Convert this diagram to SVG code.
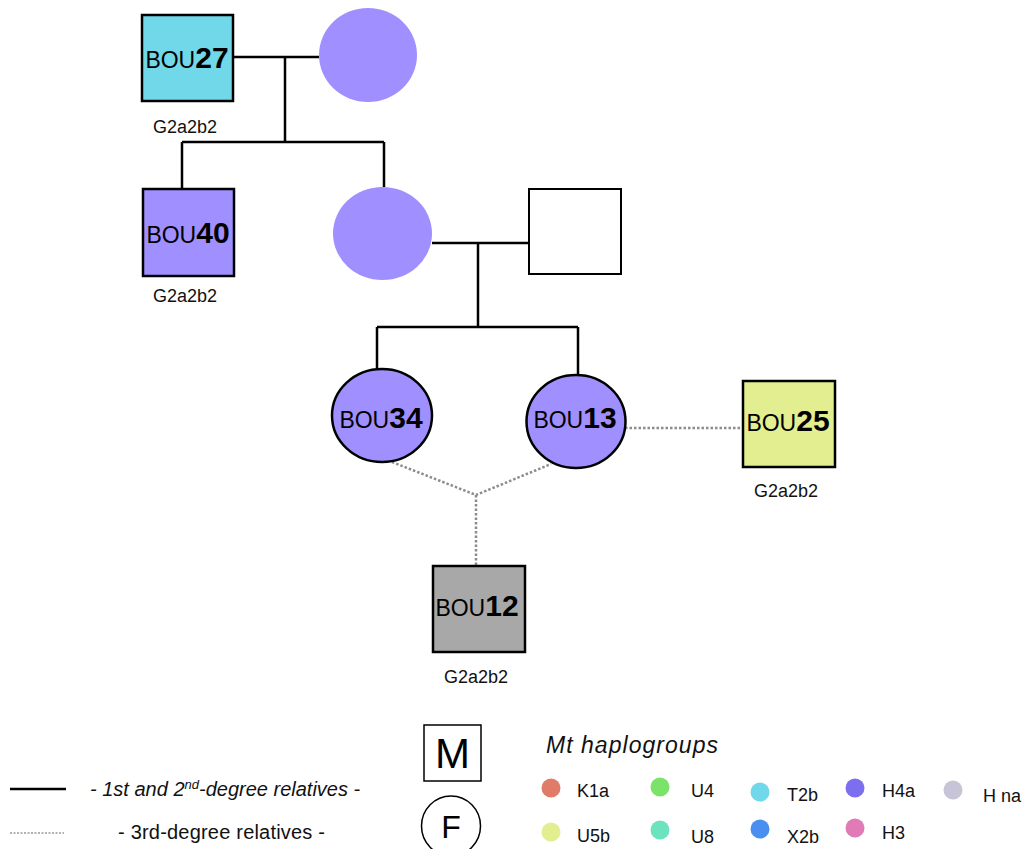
<svg xmlns="http://www.w3.org/2000/svg" width="1027" height="849" viewBox="0 0 1027 849">
<style>
.solid{stroke:#000;stroke-width:2.5;fill:none}
.dot{stroke:#8c8c8c;stroke-width:2.5;stroke-dasharray:2.5 2;fill:none}
.nodebox{stroke:#000;stroke-width:2.5}
.lbl{font-family:"Liberation Sans",Arial,sans-serif;font-size:23px;fill:#000}
.num{font-weight:bold;font-size:30px}
.hg{font-family:"Liberation Sans",Arial,sans-serif;font-size:18px;fill:#111}
.leg{font-family:"Liberation Sans",Arial,sans-serif;font-size:18px;fill:#111}
.big{font-size:20px}
.it{font-style:italic}
</style>
<rect width="1027" height="849" fill="#fff"/>
<g id="connectors">
<path class="solid" d="M233,57 H319 M285,57 V142 M182,142 H384 M182,142 V189 M384,142 V187"/>
<path class="solid" d="M432,243 H529 M478,243 V327 M377,327 H578 M377,327 V369 M578,327 V375"/>
<path class="dot" d="M625,428 H743"/>
<path class="dot" d="M392,462 L476,495 L551,464 M476,495 V566"/>
</g>
<g id="BOU27">
<rect class="nodebox" x="142" y="15" width="91" height="86" fill="#70D8E8"/>
<text class="lbl" x="187" y="68" text-anchor="middle">BOU<tspan class="num">27</tspan></text>
<text class="hg" x="185" y="133" text-anchor="middle">G2a2b2</text>
</g>
<g id="mother1">
<ellipse cx="368" cy="55" rx="49" ry="47" fill="#A08FFF"/>
</g>
<g id="BOU40">
<rect class="nodebox" x="143" y="189" width="91" height="87" fill="#A08FFF"/>
<text class="lbl" x="188" y="243" text-anchor="middle">BOU<tspan class="num">40</tspan></text>
<text class="hg" x="185" y="302" text-anchor="middle">G2a2b2</text>
</g>
<g id="daughter">
<ellipse cx="382.5" cy="233.5" rx="49.5" ry="46.5" fill="#A08FFF"/>
</g>
<g id="father2">
<rect x="529" y="189" width="92" height="85" fill="#fff" stroke="#000" stroke-width="2"/>
</g>
<g id="BOU34">
<ellipse class="nodebox" cx="382" cy="415.5" rx="50" ry="46.5" fill="#A08FFF"/>
<text class="lbl" x="381" y="428" text-anchor="middle">BOU<tspan class="num">34</tspan></text>
</g>
<g id="BOU13">
<ellipse class="nodebox" cx="576" cy="421.5" rx="49.5" ry="46.5" fill="#A08FFF"/>
<text class="lbl" x="575" y="428" text-anchor="middle">BOU<tspan class="num">13</tspan></text>
</g>
<g id="BOU25">
<rect class="nodebox" x="743" y="381" width="92" height="86" fill="#E2EE90"/>
<text class="lbl" x="788" y="431" text-anchor="middle">BOU<tspan class="num">25</tspan></text>
<text class="hg" x="786" y="497" text-anchor="middle">G2a2b2</text>
</g>
<g id="BOU12">
<rect class="nodebox" x="433" y="566" width="92" height="86" fill="#A8A8A8"/>
<text class="lbl" x="477" y="616" text-anchor="middle">BOU<tspan class="num">12</tspan></text>
<text class="hg" x="476" y="683" text-anchor="middle">G2a2b2</text>
</g>
<g id="legend-lines">
<line x1="10" y1="789" x2="66" y2="789" stroke="#000" stroke-width="2.5"/>
<text class="leg big it" x="90" y="796">- 1st and 2<tspan font-size="13" dy="-7">nd</tspan><tspan dy="7">-degree relatives -</tspan></text>
<line x1="10" y1="833" x2="64" y2="833" stroke="#999" stroke-width="1.5" stroke-dasharray="2 1.5"/>
<text class="leg big" x="118" y="839" textLength="207">- 3rd-degree relatives -</text>
</g>
<g id="legend-sex">
<rect x="424" y="725" width="57" height="56" fill="#fff" stroke="#000" stroke-width="1.5"/>
<text x="452.5" y="768" text-anchor="middle" font-family="Liberation Sans, Arial, sans-serif" font-size="42">M</text>
<ellipse cx="451" cy="826" rx="29.5" ry="30" fill="#fff" stroke="#000" stroke-width="1.5"/>
<text x="451" y="838" text-anchor="middle" font-family="Liberation Sans, Arial, sans-serif" font-size="32">F</text>
</g>
<g id="legend-mt">
<text class="leg it" x="546" y="753" style="font-size:23px" textLength="172">Mt haplogroups</text>
<circle cx="551" cy="788" r="9.5" fill="#E07B6A"/><text class="leg" x="577" y="797">K1a</text>
<circle cx="660" cy="787" r="9.5" fill="#7BE36A"/><text class="leg" x="691" y="797">U4</text>
<circle cx="760" cy="792" r="9.5" fill="#70D8E8"/><text class="leg" x="787" y="801">T2b</text>
<circle cx="855" cy="788" r="9.5" fill="#7B6FEF"/><text class="leg" x="882" y="797">H4a</text>
<circle cx="953" cy="790" r="9.5" fill="#C8C4D8"/><text class="leg" x="983" y="802">H na</text>
<circle cx="551" cy="832" r="9.5" fill="#E2EE90"/><text class="leg" x="577" y="842">U5b</text>
<circle cx="660" cy="830" r="9.5" fill="#6AE3BE"/><text class="leg" x="691" y="843">U8</text>
<circle cx="760" cy="829" r="9.5" fill="#4A8FEF"/><text class="leg" x="787" y="843">X2b</text>
<circle cx="855" cy="828" r="9.5" fill="#E07BB8"/><text class="leg" x="882" y="839">H3</text>
</g>
</svg>
